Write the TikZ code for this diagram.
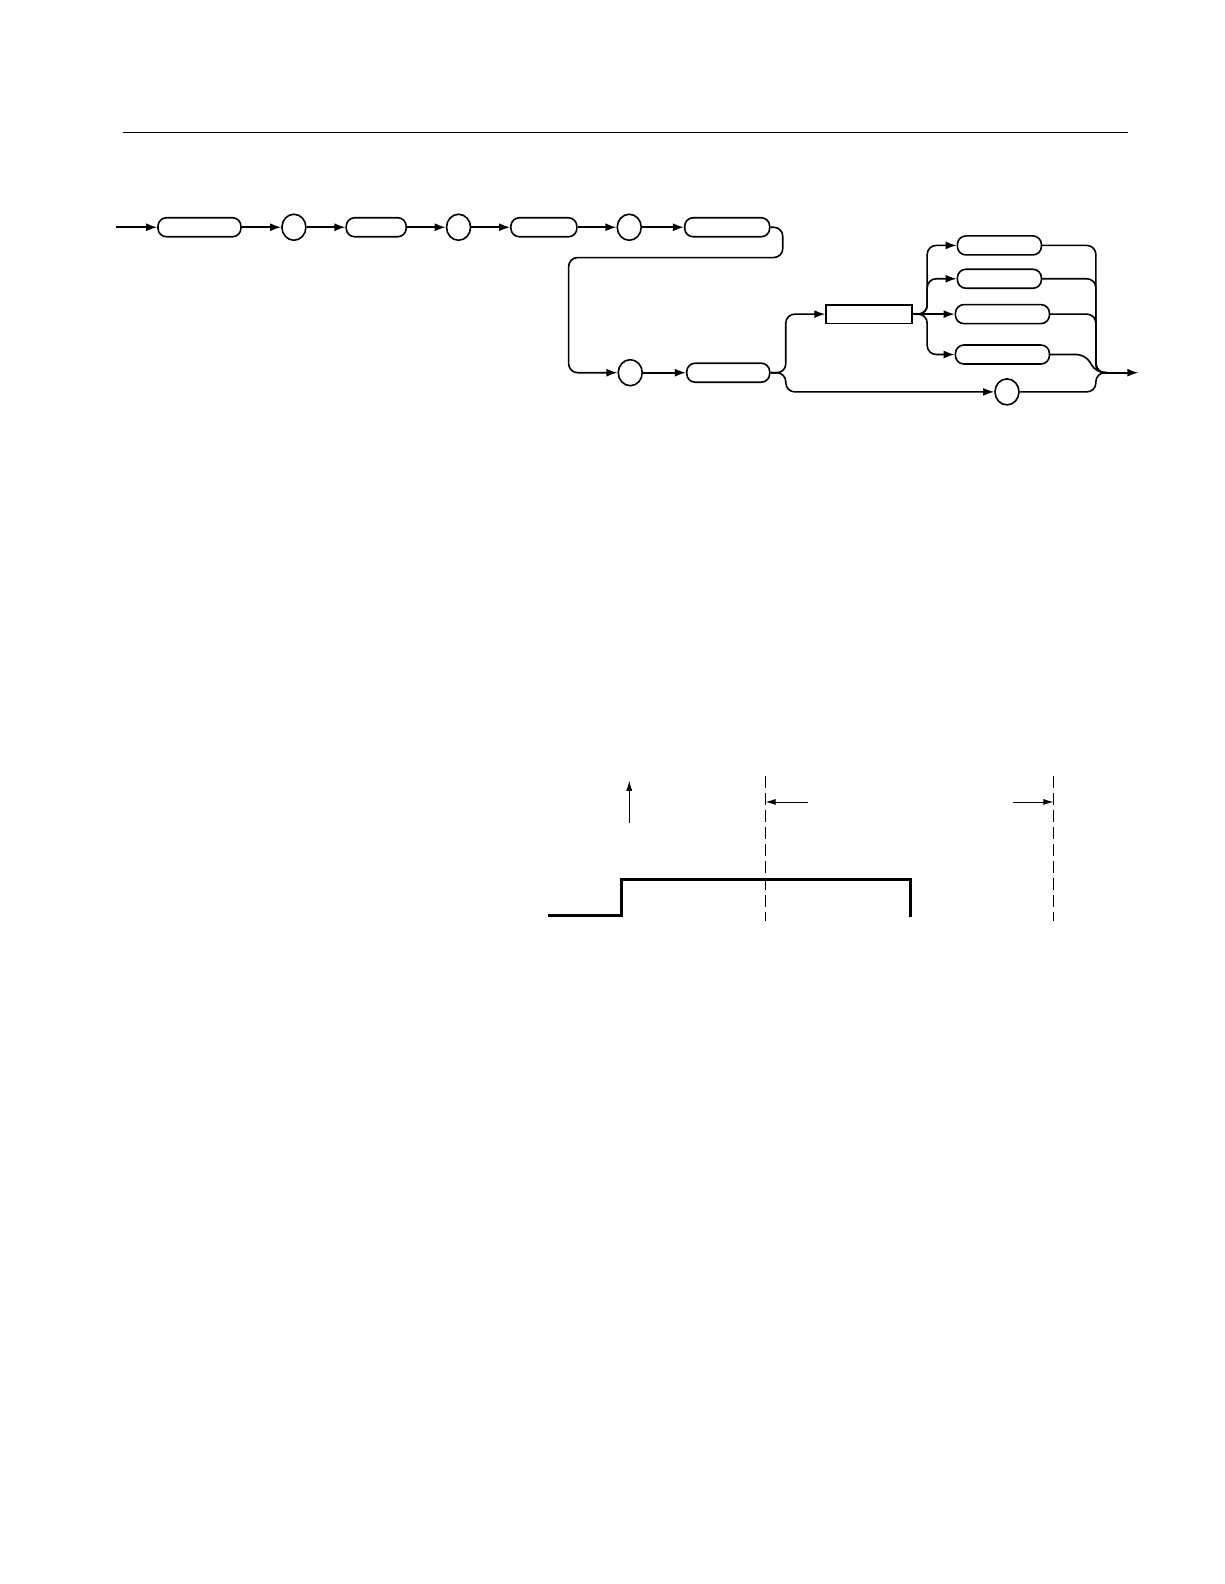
\documentclass[tikz,border=0pt]{standalone}
\usepackage{tikz}
\usetikzlibrary{arrows.meta,shapes.geometric}

\begin{document}
\begin{tikzpicture}[x=1.01pt,y=-1.01pt,
    line width=1.6pt,
    kwbox/.style={draw,rounded corners=8.5pt,minimum height=19pt,inner sep=0pt},
    argbox/.style={draw,rectangle,minimum height=18.5pt,inner sep=0pt},
    sep/.style={draw,ellipse,minimum width=24pt,minimum height=26pt,inner sep=0pt},
    flow/.style={-{Latex[length=11pt,width=8pt]},rounded corners=9pt},
    mergeline/.style={rounded corners=9pt},
    dimline/.style={line width=0.9pt,-{Latex[length=10pt,width=6pt]}},
    cursor/.style={line width=1.1pt,dash pattern=on 12pt off 5pt}]
    \useasboundingbox (0,0) rectangle (1211.9,1568.3);

    % top rule
    \coordinate (ruleL) at (122,131);
    \coordinate (ruleR) at (1117,131);
    \draw [line width=1pt] (ruleL) -- (ruleR);

    % first row
    \coordinate (Start) at (115,225);
    \node[kwbox,minimum width=83pt] (head) at (197.5,225) {};
    \node[sep] (sep1) at (291,225) {};
    \node[kwbox,minimum width=60pt] (sub1) at (372.5,225) {};
    \node[sep] (sep2) at (454,225) {};
    \node[kwbox,minimum width=66pt] (sub2) at (538.5,225) {};
    \node[sep] (sep3) at (623,225) {};
    \node[kwbox,minimum width=85pt] (sub3) at (720,225) {};

    \draw [flow] (Start) -- (head);
    \draw [flow] (head) -- (sep1);
    \draw [flow] (sep1) -- (sub1);
    \draw [flow] (sub1) -- (sep2);
    \draw [flow] (sep2) -- (sub2);
    \draw [flow] (sub2) -- (sep3);
    \draw [flow] (sep3) -- (sub3);

    % second row
    \node[sep] (sep4) at (624,369) {};
    \node[kwbox,minimum width=83pt] (param) at (721,369) {};
    \node[argbox,minimum width=86pt] (arg) at (860.5,311) {};
    \node[kwbox,minimum width=84pt] (opt1) at (989.5,243) {};
    \node[kwbox,minimum width=84pt] (opt2) at (989.5,276) {};
    \node[kwbox,minimum width=94pt] (opt3) at (992.5,311) {};
    \node[kwbox,minimum width=94pt] (opt4) at (992.5,351) {};
    \node[sep] (query) at (997,388) {};

    \draw [flow] (sub3.east) -- (775,225) -- (775,255)
        -- (563,255) -- (563,369) -- (sep4);
    \draw [flow] (sep4) -- (param);

    \draw [flow] (param.east) -- (778,369) -- (778,311) -- (arg.west);
    \draw [flow] (param.east) -- (778,369) -- (778,388) -- (query.west);

    \draw [flow] (arg.east) -- (918,311) -- (918,243) -- (opt1.west);
    \draw [flow] (arg.east) -- (918,311) -- (918,276) -- (opt2.west);
    \draw [flow] (arg.east) -- (opt3.west);
    \draw [flow] (arg.east) -- (918,311) -- (918,351) -- (opt4.west);

    \coordinate (Merge) at (1096,369);
    \coordinate (End) at (1127,369);
    \draw [mergeline] (opt1.east) -- (1085,243) -- (1085,369) -- (Merge);
    \draw [mergeline] (opt2.east) -- (1085,276) -- (1085,369) -- (Merge);
    \draw [mergeline] (opt3.east) -- (1085,311) -- (1085,369) -- (Merge);
    \draw [mergeline] (opt4.east) -- (1075,351) -- (1085,369) -- (Merge);
    \draw [mergeline] (query.east) -- (1085,388) -- (1085,369) -- (Merge);
    \draw [-{Latex[length=11pt,width=8pt]}] (Merge) -- (End);

    % timing diagram
    \coordinate (trigLow) at (623,815);
    \coordinate (trigTip) at (623,773);
    \draw [dimline] (trigLow) -- (trigTip);

    \coordinate (cur1top) at (758,768);
    \coordinate (cur1bot) at (758,912);
    \coordinate (cur2top) at (1043,768);
    \coordinate (cur2bot) at (1043,912);
    \draw [cursor] (cur1top) -- (cur1bot);
    \draw [cursor] (cur2top) -- (cur2bot);

    \coordinate (dimA) at (800,794);
    \coordinate (dimAtip) at (758,794);
    \coordinate (dimB) at (1003,794);
    \coordinate (dimBtip) at (1043,794);
    \draw [dimline] (dimA) -- (dimAtip);
    \draw [dimline] (dimB) -- (dimBtip);

    \coordinate (sigStart) at (543,906);
    \coordinate (sigRise) at (615,906);
    \coordinate (sigHigh) at (615,871);
    \coordinate (sigFall) at (901,871);
    \coordinate (sigEnd) at (901,908);
    \draw [line width=3pt] (sigStart) -- (sigRise) -- (sigHigh)
        -- (sigFall) -- (sigEnd);
\end{tikzpicture}
\end{document}
